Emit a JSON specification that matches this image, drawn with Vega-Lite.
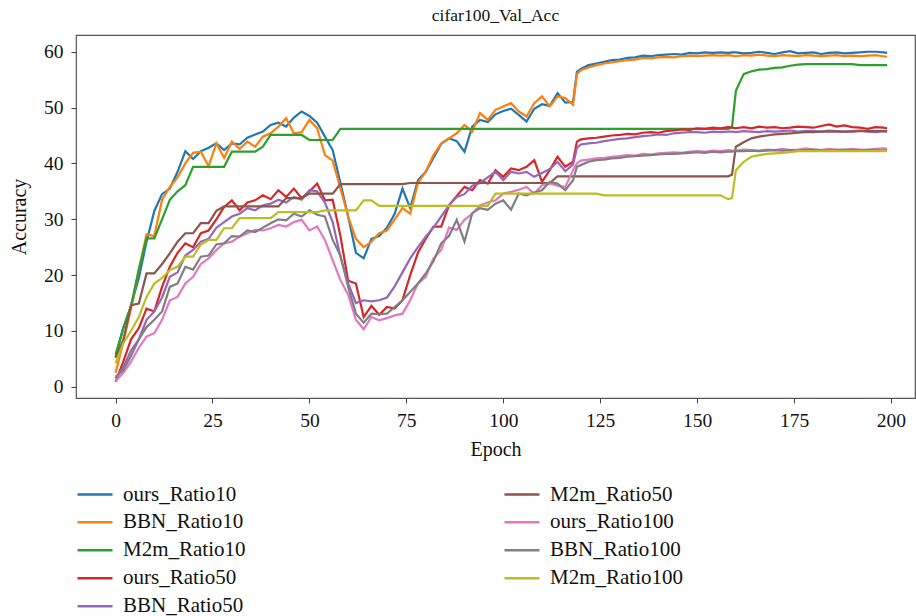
{
 "$schema": "https://vega.github.io/schema/vega-lite/v6.json",
 "width": 839,
 "height": 363,
 "autosize": {"type": "none"},
 "padding": {"left": 76, "top": 35, "right": 1, "bottom": 218},
 "background": "white",
 "title": {"text": "cifar100_Val_Acc", "fontSize": 17.5, "font": "Liberation Serif", "fontWeight": "normal", "color": "#111", "offset": 11},
 "config": {
  "view": {"stroke": "#555", "strokeWidth": 1.2},
  "font": "Liberation Serif",
  "axis": {"labelFont": "Liberation Serif", "titleFont": "Liberation Serif", "labelFontSize": 19.5, "titleFontSize": 20, "titleFontWeight": "normal", "labelColor": "#111", "titleColor": "#111", "tickColor": "#444", "tickSize": 5, "domain": false, "grid": false},
  "legend": {"labelFont": "Liberation Serif", "labelFontSize": 21, "labelColor": "#111", "padding": 0}
 },
 "data": {"values": [
{"Epoch":0,"ours_Ratio10":5.3,"BBN_Ratio10":2.5,"M2m_Ratio10":5.8,"ours_Ratio50":0.9,"BBN_Ratio50":1.5,"M2m_Ratio50":5.2,"ours_Ratio100":1.0,"BBN_Ratio100":1.8,"M2m_Ratio100":4.2},
{"Epoch":2,"ours_Ratio10":10.5,"BBN_Ratio10":8.0,"M2m_Ratio10":10.5,"ours_Ratio50":4.5,"BBN_Ratio50":3.5,"M2m_Ratio50":8.4,"ours_Ratio100":2.5,"BBN_Ratio100":3.0,"M2m_Ratio100":7.8},
{"Epoch":4,"ours_Ratio10":14.5,"BBN_Ratio10":14.0,"M2m_Ratio10":14.5,"ours_Ratio50":8.5,"BBN_Ratio50":6.5,"M2m_Ratio50":14.6,"ours_Ratio100":4.5,"BBN_Ratio100":5.5,"M2m_Ratio100":10.0},
{"Epoch":6,"ours_Ratio10":19.5,"BBN_Ratio10":21.0,"M2m_Ratio10":21.0,"ours_Ratio50":10.5,"BBN_Ratio50":8.5,"M2m_Ratio50":14.9,"ours_Ratio100":7.0,"BBN_Ratio100":8.5,"M2m_Ratio100":12.5},
{"Epoch":8,"ours_Ratio10":26.0,"BBN_Ratio10":27.3,"M2m_Ratio10":26.6,"ours_Ratio50":14.0,"BBN_Ratio50":12.0,"M2m_Ratio50":20.3,"ours_Ratio100":9.0,"BBN_Ratio100":10.7,"M2m_Ratio100":16.1},
{"Epoch":10,"ours_Ratio10":31.5,"BBN_Ratio10":27.0,"M2m_Ratio10":26.6,"ours_Ratio50":13.5,"BBN_Ratio50":13.5,"M2m_Ratio50":20.3,"ours_Ratio100":9.6,"BBN_Ratio100":12.0,"M2m_Ratio100":18.5},
{"Epoch":12,"ours_Ratio10":34.5,"BBN_Ratio10":33.5,"M2m_Ratio10":30.0,"ours_Ratio50":17.9,"BBN_Ratio50":16.0,"M2m_Ratio50":22.0,"ours_Ratio100":12.0,"BBN_Ratio100":13.5,"M2m_Ratio100":19.5},
{"Epoch":14,"ours_Ratio10":35.5,"BBN_Ratio10":35.8,"M2m_Ratio10":33.5,"ours_Ratio50":21.5,"BBN_Ratio50":19.7,"M2m_Ratio50":23.9,"ours_Ratio100":15.5,"BBN_Ratio100":17.9,"M2m_Ratio100":20.9},
{"Epoch":16,"ours_Ratio10":38.5,"BBN_Ratio10":37.5,"M2m_Ratio10":35.0,"ours_Ratio50":24.0,"BBN_Ratio50":20.5,"M2m_Ratio50":26.0,"ours_Ratio100":16.1,"BBN_Ratio100":18.5,"M2m_Ratio100":21.5},
{"Epoch":18,"ours_Ratio10":42.2,"BBN_Ratio10":40.0,"M2m_Ratio10":36.1,"ours_Ratio50":25.7,"BBN_Ratio50":23.5,"M2m_Ratio50":27.5,"ours_Ratio100":18.5,"BBN_Ratio100":21.5,"M2m_Ratio100":23.3},
{"Epoch":20,"ours_Ratio10":40.8,"BBN_Ratio10":41.9,"M2m_Ratio10":39.4,"ours_Ratio50":25.0,"BBN_Ratio50":24.5,"M2m_Ratio50":27.5,"ours_Ratio100":19.7,"BBN_Ratio100":21.0,"M2m_Ratio100":23.3},
{"Epoch":22,"ours_Ratio10":42.2,"BBN_Ratio10":42.1,"M2m_Ratio10":39.4,"ours_Ratio50":27.5,"BBN_Ratio50":26.0,"M2m_Ratio50":29.3,"ours_Ratio100":22.0,"BBN_Ratio100":23.3,"M2m_Ratio100":25.5},
{"Epoch":24,"ours_Ratio10":42.8,"BBN_Ratio10":39.5,"M2m_Ratio10":39.4,"ours_Ratio50":28.0,"BBN_Ratio50":26.5,"M2m_Ratio50":29.3,"ours_Ratio100":23.0,"BBN_Ratio100":23.5,"M2m_Ratio100":26.3},
{"Epoch":26,"ours_Ratio10":43.6,"BBN_Ratio10":43.6,"M2m_Ratio10":39.4,"ours_Ratio50":30.0,"BBN_Ratio50":28.5,"M2m_Ratio50":31.5,"ours_Ratio100":24.5,"BBN_Ratio100":25.5,"M2m_Ratio100":26.3},
{"Epoch":28,"ours_Ratio10":42.4,"BBN_Ratio10":41.0,"M2m_Ratio10":39.4,"ours_Ratio50":32.2,"BBN_Ratio50":29.5,"M2m_Ratio50":32.3,"ours_Ratio100":25.7,"BBN_Ratio100":25.7,"M2m_Ratio100":28.4},
{"Epoch":30,"ours_Ratio10":43.6,"BBN_Ratio10":43.9,"M2m_Ratio10":42.1,"ours_Ratio50":33.4,"BBN_Ratio50":30.5,"M2m_Ratio50":32.3,"ours_Ratio100":26.0,"BBN_Ratio100":27.0,"M2m_Ratio100":28.4},
{"Epoch":32,"ours_Ratio10":43.4,"BBN_Ratio10":42.6,"M2m_Ratio10":42.1,"ours_Ratio50":31.6,"BBN_Ratio50":31.0,"M2m_Ratio50":32.3,"ours_Ratio100":26.9,"BBN_Ratio100":26.9,"M2m_Ratio100":30.2},
{"Epoch":34,"ours_Ratio10":44.6,"BBN_Ratio10":43.9,"M2m_Ratio10":42.1,"ours_Ratio50":33.0,"BBN_Ratio50":32.0,"M2m_Ratio50":32.3,"ours_Ratio100":27.5,"BBN_Ratio100":28.0,"M2m_Ratio100":30.2},
{"Epoch":36,"ours_Ratio10":45.2,"BBN_Ratio10":43.0,"M2m_Ratio10":42.1,"ours_Ratio50":33.4,"BBN_Ratio50":31.6,"M2m_Ratio50":32.3,"ours_Ratio100":28.1,"BBN_Ratio100":27.7,"M2m_Ratio100":30.2},
{"Epoch":38,"ours_Ratio10":45.7,"BBN_Ratio10":44.8,"M2m_Ratio10":43.0,"ours_Ratio50":34.3,"BBN_Ratio50":32.5,"M2m_Ratio50":32.3,"ours_Ratio100":28.0,"BBN_Ratio100":28.5,"M2m_Ratio100":30.2},
{"Epoch":40,"ours_Ratio10":46.9,"BBN_Ratio10":45.4,"M2m_Ratio10":45.1,"ours_Ratio50":33.6,"BBN_Ratio50":32.8,"M2m_Ratio50":32.3,"ours_Ratio100":28.4,"BBN_Ratio100":29.3,"M2m_Ratio100":30.2},
{"Epoch":42,"ours_Ratio10":47.3,"BBN_Ratio10":46.6,"M2m_Ratio10":45.1,"ours_Ratio50":35.2,"BBN_Ratio50":33.5,"M2m_Ratio50":32.3,"ours_Ratio100":29.0,"BBN_Ratio100":30.0,"M2m_Ratio100":31.3},
{"Epoch":44,"ours_Ratio10":46.6,"BBN_Ratio10":48.1,"M2m_Ratio10":45.1,"ours_Ratio50":34.0,"BBN_Ratio50":33.0,"M2m_Ratio50":33.8,"ours_Ratio100":28.7,"BBN_Ratio100":29.8,"M2m_Ratio100":31.3},
{"Epoch":46,"ours_Ratio10":48.2,"BBN_Ratio10":45.4,"M2m_Ratio10":45.1,"ours_Ratio50":35.5,"BBN_Ratio50":34.0,"M2m_Ratio50":33.8,"ours_Ratio100":29.5,"BBN_Ratio100":31.0,"M2m_Ratio100":31.3},
{"Epoch":48,"ours_Ratio10":49.3,"BBN_Ratio10":45.6,"M2m_Ratio10":45.1,"ours_Ratio50":33.8,"BBN_Ratio50":33.5,"M2m_Ratio50":33.8,"ours_Ratio100":29.9,"BBN_Ratio100":30.5,"M2m_Ratio100":31.3},
{"Epoch":50,"ours_Ratio10":48.5,"BBN_Ratio10":47.8,"M2m_Ratio10":44.2,"ours_Ratio50":35.0,"BBN_Ratio50":35.2,"M2m_Ratio50":34.6,"ours_Ratio100":28.0,"BBN_Ratio100":31.6,"M2m_Ratio100":31.3},
{"Epoch":52,"ours_Ratio10":47.3,"BBN_Ratio10":46.3,"M2m_Ratio10":44.2,"ours_Ratio50":36.4,"BBN_Ratio50":35.0,"M2m_Ratio50":34.6,"ours_Ratio100":28.7,"BBN_Ratio100":30.8,"M2m_Ratio100":31.3},
{"Epoch":54,"ours_Ratio10":44.8,"BBN_Ratio10":41.5,"M2m_Ratio10":44.2,"ours_Ratio50":33.4,"BBN_Ratio50":33.0,"M2m_Ratio50":34.6,"ours_Ratio100":26.3,"BBN_Ratio100":30.5,"M2m_Ratio100":31.6},
{"Epoch":56,"ours_Ratio10":42.4,"BBN_Ratio10":40.5,"M2m_Ratio10":44.2,"ours_Ratio50":33.5,"BBN_Ratio50":29.5,"M2m_Ratio50":34.6,"ours_Ratio100":22.7,"BBN_Ratio100":26.3,"M2m_Ratio100":31.6},
{"Epoch":58,"ours_Ratio10":36.5,"BBN_Ratio10":35.5,"M2m_Ratio10":46.2,"ours_Ratio50":27.0,"BBN_Ratio50":23.3,"M2m_Ratio50":36.3,"ours_Ratio100":19.1,"BBN_Ratio100":23.5,"M2m_Ratio100":31.6},
{"Epoch":60,"ours_Ratio10":30.5,"BBN_Ratio10":30.5,"M2m_Ratio10":46.2,"ours_Ratio50":19.0,"BBN_Ratio50":18.5,"M2m_Ratio50":36.3,"ours_Ratio100":16.5,"BBN_Ratio100":17.9,"M2m_Ratio100":31.6},
{"Epoch":62,"ours_Ratio10":24.0,"BBN_Ratio10":26.5,"M2m_Ratio10":46.2,"ours_Ratio50":18.5,"BBN_Ratio50":15.0,"M2m_Ratio50":36.3,"ours_Ratio100":12.0,"BBN_Ratio100":13.1,"M2m_Ratio100":31.6},
{"Epoch":64,"ours_Ratio10":23.0,"BBN_Ratio10":25.0,"M2m_Ratio10":46.2,"ours_Ratio50":12.5,"BBN_Ratio50":15.5,"M2m_Ratio50":36.3,"ours_Ratio100":10.3,"BBN_Ratio100":11.5,"M2m_Ratio100":33.4},
{"Epoch":66,"ours_Ratio10":26.5,"BBN_Ratio10":26.0,"M2m_Ratio10":46.2,"ours_Ratio50":14.5,"BBN_Ratio50":15.3,"M2m_Ratio50":36.3,"ours_Ratio100":12.5,"BBN_Ratio100":13.1,"M2m_Ratio100":33.4},
{"Epoch":68,"ours_Ratio10":27.0,"BBN_Ratio10":27.5,"M2m_Ratio10":46.2,"ours_Ratio50":12.9,"BBN_Ratio50":15.5,"M2m_Ratio50":36.3,"ours_Ratio100":11.9,"BBN_Ratio100":13.0,"M2m_Ratio100":32.4},
{"Epoch":70,"ours_Ratio10":28.5,"BBN_Ratio10":28.0,"M2m_Ratio10":46.2,"ours_Ratio50":14.3,"BBN_Ratio50":16.0,"M2m_Ratio50":36.3,"ours_Ratio100":12.3,"BBN_Ratio100":13.1,"M2m_Ratio100":32.4},
{"Epoch":72,"ours_Ratio10":31.0,"BBN_Ratio10":30.0,"M2m_Ratio10":46.2,"ours_Ratio50":14.0,"BBN_Ratio50":18.0,"M2m_Ratio50":36.3,"ours_Ratio100":12.8,"BBN_Ratio100":14.3,"M2m_Ratio100":32.4},
{"Epoch":74,"ours_Ratio10":35.5,"BBN_Ratio10":32.0,"M2m_Ratio10":46.2,"ours_Ratio50":15.5,"BBN_Ratio50":20.5,"M2m_Ratio50":36.3,"ours_Ratio100":13.1,"BBN_Ratio100":15.5,"M2m_Ratio100":32.4},
{"Epoch":76,"ours_Ratio10":32.0,"BBN_Ratio10":31.0,"M2m_Ratio10":46.2,"ours_Ratio50":20.0,"BBN_Ratio50":23.0,"M2m_Ratio50":36.5,"ours_Ratio100":15.5,"BBN_Ratio100":17.0,"M2m_Ratio100":32.4},
{"Epoch":78,"ours_Ratio10":37.0,"BBN_Ratio10":36.5,"M2m_Ratio10":46.2,"ours_Ratio50":24.0,"BBN_Ratio50":25.0,"M2m_Ratio50":36.5,"ours_Ratio100":18.5,"BBN_Ratio100":18.5,"M2m_Ratio100":32.4},
{"Epoch":80,"ours_Ratio10":38.5,"BBN_Ratio10":38.5,"M2m_Ratio10":46.2,"ours_Ratio50":26.5,"BBN_Ratio50":26.9,"M2m_Ratio50":36.5,"ours_Ratio100":19.7,"BBN_Ratio100":20.3,"M2m_Ratio100":32.4},
{"Epoch":82,"ours_Ratio10":41.0,"BBN_Ratio10":41.5,"M2m_Ratio10":46.2,"ours_Ratio50":28.7,"BBN_Ratio50":28.5,"M2m_Ratio50":36.5,"ours_Ratio100":23.0,"BBN_Ratio100":22.5,"M2m_Ratio100":32.4},
{"Epoch":84,"ours_Ratio10":43.5,"BBN_Ratio10":43.6,"M2m_Ratio10":46.2,"ours_Ratio50":28.7,"BBN_Ratio50":30.5,"M2m_Ratio50":36.5,"ours_Ratio100":24.5,"BBN_Ratio100":25.7,"M2m_Ratio100":32.4},
{"Epoch":86,"ours_Ratio10":44.5,"BBN_Ratio10":44.5,"M2m_Ratio10":46.2,"ours_Ratio50":32.5,"BBN_Ratio50":32.5,"M2m_Ratio50":36.5,"ours_Ratio100":28.5,"BBN_Ratio100":27.0,"M2m_Ratio100":32.4},
{"Epoch":88,"ours_Ratio10":44.0,"BBN_Ratio10":45.4,"M2m_Ratio10":46.2,"ours_Ratio50":34.2,"BBN_Ratio50":34.0,"M2m_Ratio50":36.5,"ours_Ratio100":28.1,"BBN_Ratio100":29.9,"M2m_Ratio100":32.4},
{"Epoch":90,"ours_Ratio10":42.1,"BBN_Ratio10":46.9,"M2m_Ratio10":46.2,"ours_Ratio50":35.8,"BBN_Ratio50":34.5,"M2m_Ratio50":36.5,"ours_Ratio100":29.9,"BBN_Ratio100":26.0,"M2m_Ratio100":32.4},
{"Epoch":92,"ours_Ratio10":46.6,"BBN_Ratio10":45.7,"M2m_Ratio10":46.2,"ours_Ratio50":35.2,"BBN_Ratio50":36.0,"M2m_Ratio50":36.5,"ours_Ratio100":31.0,"BBN_Ratio100":31.1,"M2m_Ratio100":32.4},
{"Epoch":94,"ours_Ratio10":47.8,"BBN_Ratio10":49.0,"M2m_Ratio10":46.2,"ours_Ratio50":37.0,"BBN_Ratio50":36.5,"M2m_Ratio50":36.5,"ours_Ratio100":32.5,"BBN_Ratio100":32.0,"M2m_Ratio100":32.4},
{"Epoch":96,"ours_Ratio10":47.4,"BBN_Ratio10":47.8,"M2m_Ratio10":46.2,"ours_Ratio50":36.4,"BBN_Ratio50":37.5,"M2m_Ratio50":36.5,"ours_Ratio100":33.0,"BBN_Ratio100":31.7,"M2m_Ratio100":32.4},
{"Epoch":98,"ours_Ratio10":48.8,"BBN_Ratio10":49.6,"M2m_Ratio10":46.2,"ours_Ratio50":38.8,"BBN_Ratio50":38.5,"M2m_Ratio50":36.5,"ours_Ratio100":33.4,"BBN_Ratio100":32.8,"M2m_Ratio100":34.6},
{"Epoch":100,"ours_Ratio10":49.4,"BBN_Ratio10":50.2,"M2m_Ratio10":46.2,"ours_Ratio50":37.6,"BBN_Ratio50":37.0,"M2m_Ratio50":36.5,"ours_Ratio100":34.6,"BBN_Ratio100":33.4,"M2m_Ratio100":34.6},
{"Epoch":102,"ours_Ratio10":49.8,"BBN_Ratio10":50.8,"M2m_Ratio10":46.2,"ours_Ratio50":39.1,"BBN_Ratio50":38.5,"M2m_Ratio50":36.5,"ours_Ratio100":34.9,"BBN_Ratio100":31.7,"M2m_Ratio100":34.6},
{"Epoch":104,"ours_Ratio10":48.7,"BBN_Ratio10":49.3,"M2m_Ratio10":46.2,"ours_Ratio50":38.8,"BBN_Ratio50":38.2,"M2m_Ratio50":36.5,"ours_Ratio100":35.3,"BBN_Ratio100":34.6,"M2m_Ratio100":34.6},
{"Epoch":106,"ours_Ratio10":47.5,"BBN_Ratio10":48.4,"M2m_Ratio10":46.2,"ours_Ratio50":39.4,"BBN_Ratio50":38.5,"M2m_Ratio50":36.5,"ours_Ratio100":35.8,"BBN_Ratio100":34.3,"M2m_Ratio100":34.6},
{"Epoch":108,"ours_Ratio10":49.8,"BBN_Ratio10":50.8,"M2m_Ratio10":46.2,"ours_Ratio50":40.6,"BBN_Ratio50":37.6,"M2m_Ratio50":36.5,"ours_Ratio100":34.6,"BBN_Ratio100":34.8,"M2m_Ratio100":34.6},
{"Epoch":110,"ours_Ratio10":50.6,"BBN_Ratio10":52.0,"M2m_Ratio10":46.2,"ours_Ratio50":36.7,"BBN_Ratio50":38.3,"M2m_Ratio50":36.5,"ours_Ratio100":36.1,"BBN_Ratio100":35.2,"M2m_Ratio100":34.6},
{"Epoch":112,"ours_Ratio10":50.3,"BBN_Ratio10":50.2,"M2m_Ratio10":46.2,"ours_Ratio50":38.8,"BBN_Ratio50":39.0,"M2m_Ratio50":36.5,"ours_Ratio100":36.4,"BBN_Ratio100":36.7,"M2m_Ratio100":34.6},
{"Epoch":114,"ours_Ratio10":52.6,"BBN_Ratio10":52.0,"M2m_Ratio10":46.2,"ours_Ratio50":41.2,"BBN_Ratio50":40.3,"M2m_Ratio50":37.7,"ours_Ratio100":36.0,"BBN_Ratio100":36.4,"M2m_Ratio100":34.6},
{"Epoch":116,"ours_Ratio10":50.9,"BBN_Ratio10":51.7,"M2m_Ratio10":46.2,"ours_Ratio50":39.4,"BBN_Ratio50":38.6,"M2m_Ratio50":37.7,"ours_Ratio100":35.8,"BBN_Ratio100":35.2,"M2m_Ratio100":34.6},
{"Epoch":118,"ours_Ratio10":51.0,"BBN_Ratio10":50.5,"M2m_Ratio10":46.2,"ours_Ratio50":40.3,"BBN_Ratio50":39.8,"M2m_Ratio50":37.7,"ours_Ratio100":38.8,"BBN_Ratio100":37.0,"M2m_Ratio100":34.6},
{"Epoch":119,"ours_Ratio10":56.4,"BBN_Ratio10":56.0,"M2m_Ratio10":46.2,"ours_Ratio50":43.9,"BBN_Ratio50":42.8,"M2m_Ratio50":37.7,"ours_Ratio100":40.0,"BBN_Ratio100":39.4,"M2m_Ratio100":34.6},
{"Epoch":120,"ours_Ratio10":56.9,"BBN_Ratio10":56.7,"M2m_Ratio10":46.2,"ours_Ratio50":44.3,"BBN_Ratio50":43.4,"M2m_Ratio50":37.7,"ours_Ratio100":40.5,"BBN_Ratio100":39.7,"M2m_Ratio100":34.6},
{"Epoch":122,"ours_Ratio10":57.6,"BBN_Ratio10":57.2,"M2m_Ratio10":46.2,"ours_Ratio50":44.5,"BBN_Ratio50":43.6,"M2m_Ratio50":37.7,"ours_Ratio100":40.7,"BBN_Ratio100":40.3,"M2m_Ratio100":34.6},
{"Epoch":124,"ours_Ratio10":57.9,"BBN_Ratio10":57.6,"M2m_Ratio10":46.2,"ours_Ratio50":44.6,"BBN_Ratio50":43.7,"M2m_Ratio50":37.7,"ours_Ratio100":40.9,"BBN_Ratio100":40.6,"M2m_Ratio100":34.6},
{"Epoch":126,"ours_Ratio10":58.2,"BBN_Ratio10":57.9,"M2m_Ratio10":46.2,"ours_Ratio50":44.8,"BBN_Ratio50":44.0,"M2m_Ratio50":37.7,"ours_Ratio100":41.0,"BBN_Ratio100":40.7,"M2m_Ratio100":34.3},
{"Epoch":128,"ours_Ratio10":58.5,"BBN_Ratio10":58.1,"M2m_Ratio10":46.2,"ours_Ratio50":45.0,"BBN_Ratio50":44.2,"M2m_Ratio50":37.7,"ours_Ratio100":41.2,"BBN_Ratio100":40.9,"M2m_Ratio100":34.3},
{"Epoch":130,"ours_Ratio10":58.6,"BBN_Ratio10":58.3,"M2m_Ratio10":46.2,"ours_Ratio50":45.1,"BBN_Ratio50":44.4,"M2m_Ratio50":37.7,"ours_Ratio100":41.3,"BBN_Ratio100":41.0,"M2m_Ratio100":34.3},
{"Epoch":132,"ours_Ratio10":58.9,"BBN_Ratio10":58.5,"M2m_Ratio10":46.2,"ours_Ratio50":45.3,"BBN_Ratio50":44.5,"M2m_Ratio50":37.7,"ours_Ratio100":41.5,"BBN_Ratio100":41.2,"M2m_Ratio100":34.3},
{"Epoch":134,"ours_Ratio10":59.0,"BBN_Ratio10":58.6,"M2m_Ratio10":46.2,"ours_Ratio50":45.2,"BBN_Ratio50":44.7,"M2m_Ratio50":37.7,"ours_Ratio100":41.4,"BBN_Ratio100":41.3,"M2m_Ratio100":34.3},
{"Epoch":136,"ours_Ratio10":59.3,"BBN_Ratio10":58.9,"M2m_Ratio10":46.2,"ours_Ratio50":45.5,"BBN_Ratio50":44.9,"M2m_Ratio50":37.7,"ours_Ratio100":41.7,"BBN_Ratio100":41.4,"M2m_Ratio100":34.3},
{"Epoch":138,"ours_Ratio10":59.2,"BBN_Ratio10":58.8,"M2m_Ratio10":46.2,"ours_Ratio50":45.6,"BBN_Ratio50":45.0,"M2m_Ratio50":37.7,"ours_Ratio100":41.6,"BBN_Ratio100":41.5,"M2m_Ratio100":34.3},
{"Epoch":140,"ours_Ratio10":59.4,"BBN_Ratio10":59.0,"M2m_Ratio10":46.2,"ours_Ratio50":45.5,"BBN_Ratio50":45.2,"M2m_Ratio50":37.7,"ours_Ratio100":41.8,"BBN_Ratio100":41.6,"M2m_Ratio100":34.3},
{"Epoch":142,"ours_Ratio10":59.5,"BBN_Ratio10":59.1,"M2m_Ratio10":46.2,"ours_Ratio50":45.8,"BBN_Ratio50":45.1,"M2m_Ratio50":37.7,"ours_Ratio100":41.9,"BBN_Ratio100":41.7,"M2m_Ratio100":34.3},
{"Epoch":144,"ours_Ratio10":59.6,"BBN_Ratio10":59.0,"M2m_Ratio10":46.2,"ours_Ratio50":45.9,"BBN_Ratio50":45.4,"M2m_Ratio50":37.7,"ours_Ratio100":42.0,"BBN_Ratio100":41.7,"M2m_Ratio100":34.3},
{"Epoch":146,"ours_Ratio10":59.5,"BBN_Ratio10":59.2,"M2m_Ratio10":46.2,"ours_Ratio50":46.1,"BBN_Ratio50":45.5,"M2m_Ratio50":37.7,"ours_Ratio100":41.9,"BBN_Ratio100":41.8,"M2m_Ratio100":34.3},
{"Epoch":148,"ours_Ratio10":59.8,"BBN_Ratio10":59.3,"M2m_Ratio10":46.2,"ours_Ratio50":46.0,"BBN_Ratio50":45.6,"M2m_Ratio50":37.7,"ours_Ratio100":42.1,"BBN_Ratio100":41.9,"M2m_Ratio100":34.3},
{"Epoch":150,"ours_Ratio10":59.7,"BBN_Ratio10":59.2,"M2m_Ratio10":46.2,"ours_Ratio50":46.3,"BBN_Ratio50":45.6,"M2m_Ratio50":37.7,"ours_Ratio100":42.2,"BBN_Ratio100":42.0,"M2m_Ratio100":34.3},
{"Epoch":152,"ours_Ratio10":59.9,"BBN_Ratio10":59.3,"M2m_Ratio10":46.2,"ours_Ratio50":46.2,"BBN_Ratio50":45.5,"M2m_Ratio50":37.7,"ours_Ratio100":42.1,"BBN_Ratio100":41.9,"M2m_Ratio100":34.3},
{"Epoch":154,"ours_Ratio10":59.8,"BBN_Ratio10":59.4,"M2m_Ratio10":46.2,"ours_Ratio50":46.4,"BBN_Ratio50":45.7,"M2m_Ratio50":37.7,"ours_Ratio100":42.3,"BBN_Ratio100":42.1,"M2m_Ratio100":34.3},
{"Epoch":156,"ours_Ratio10":59.9,"BBN_Ratio10":59.3,"M2m_Ratio10":46.2,"ours_Ratio50":46.3,"BBN_Ratio50":45.6,"M2m_Ratio50":37.7,"ours_Ratio100":42.2,"BBN_Ratio100":42.0,"M2m_Ratio100":34.3},
{"Epoch":158,"ours_Ratio10":59.8,"BBN_Ratio10":59.4,"M2m_Ratio10":46.2,"ours_Ratio50":46.5,"BBN_Ratio50":45.7,"M2m_Ratio50":37.7,"ours_Ratio100":42.4,"BBN_Ratio100":42.1,"M2m_Ratio100":33.6},
{"Epoch":159,"ours_Ratio10":59.9,"BBN_Ratio10":59.3,"M2m_Ratio10":46.5,"ours_Ratio50":46.4,"BBN_Ratio50":45.7,"M2m_Ratio50":38.0,"ours_Ratio100":42.3,"BBN_Ratio100":42.1,"M2m_Ratio100":33.8},
{"Epoch":160,"ours_Ratio10":59.9,"BBN_Ratio10":59.2,"M2m_Ratio10":53.0,"ours_Ratio50":46.3,"BBN_Ratio50":45.6,"M2m_Ratio50":43.0,"ours_Ratio100":42.3,"BBN_Ratio100":42.2,"M2m_Ratio100":38.8},
{"Epoch":162,"ours_Ratio10":59.7,"BBN_Ratio10":59.4,"M2m_Ratio10":56.0,"ours_Ratio50":46.5,"BBN_Ratio50":45.8,"M2m_Ratio50":43.8,"ours_Ratio100":42.5,"BBN_Ratio100":42.2,"M2m_Ratio100":40.3},
{"Epoch":164,"ours_Ratio10":59.8,"BBN_Ratio10":59.3,"M2m_Ratio10":56.5,"ours_Ratio50":46.3,"BBN_Ratio50":45.7,"M2m_Ratio50":44.5,"ours_Ratio100":42.4,"BBN_Ratio100":42.3,"M2m_Ratio100":41.2},
{"Epoch":166,"ours_Ratio10":60.0,"BBN_Ratio10":59.5,"M2m_Ratio10":56.8,"ours_Ratio50":46.6,"BBN_Ratio50":45.6,"M2m_Ratio50":44.8,"ours_Ratio100":42.3,"BBN_Ratio100":42.2,"M2m_Ratio100":41.5},
{"Epoch":168,"ours_Ratio10":59.8,"BBN_Ratio10":59.3,"M2m_Ratio10":56.9,"ours_Ratio50":46.4,"BBN_Ratio50":45.8,"M2m_Ratio50":45.0,"ours_Ratio100":42.5,"BBN_Ratio100":42.3,"M2m_Ratio100":41.7},
{"Epoch":170,"ours_Ratio10":59.6,"BBN_Ratio10":59.2,"M2m_Ratio10":57.1,"ours_Ratio50":46.5,"BBN_Ratio50":45.7,"M2m_Ratio50":45.2,"ours_Ratio100":42.4,"BBN_Ratio100":42.4,"M2m_Ratio100":41.8},
{"Epoch":172,"ours_Ratio10":59.9,"BBN_Ratio10":59.4,"M2m_Ratio10":57.2,"ours_Ratio50":46.3,"BBN_Ratio50":45.8,"M2m_Ratio50":45.3,"ours_Ratio100":42.6,"BBN_Ratio100":42.3,"M2m_Ratio100":41.9},
{"Epoch":174,"ours_Ratio10":60.1,"BBN_Ratio10":59.3,"M2m_Ratio10":57.5,"ours_Ratio50":46.4,"BBN_Ratio50":45.9,"M2m_Ratio50":45.4,"ours_Ratio100":42.4,"BBN_Ratio100":42.4,"M2m_Ratio100":42.0},
{"Epoch":176,"ours_Ratio10":59.7,"BBN_Ratio10":59.2,"M2m_Ratio10":57.7,"ours_Ratio50":46.6,"BBN_Ratio50":45.7,"M2m_Ratio50":45.5,"ours_Ratio100":42.5,"BBN_Ratio100":42.3,"M2m_Ratio100":42.2},
{"Epoch":178,"ours_Ratio10":59.8,"BBN_Ratio10":59.4,"M2m_Ratio10":57.8,"ours_Ratio50":46.5,"BBN_Ratio50":45.8,"M2m_Ratio50":45.6,"ours_Ratio100":42.7,"BBN_Ratio100":42.4,"M2m_Ratio100":42.2},
{"Epoch":180,"ours_Ratio10":59.9,"BBN_Ratio10":59.3,"M2m_Ratio10":57.8,"ours_Ratio50":46.4,"BBN_Ratio50":45.8,"M2m_Ratio50":45.6,"ours_Ratio100":42.5,"BBN_Ratio100":42.5,"M2m_Ratio100":42.2},
{"Epoch":182,"ours_Ratio10":59.6,"BBN_Ratio10":59.2,"M2m_Ratio10":57.8,"ours_Ratio50":46.7,"BBN_Ratio50":45.7,"M2m_Ratio50":45.7,"ours_Ratio100":42.4,"BBN_Ratio100":42.4,"M2m_Ratio100":42.2},
{"Epoch":184,"ours_Ratio10":59.8,"BBN_Ratio10":59.3,"M2m_Ratio10":57.8,"ours_Ratio50":47.0,"BBN_Ratio50":45.9,"M2m_Ratio50":45.7,"ours_Ratio100":42.6,"BBN_Ratio100":42.3,"M2m_Ratio100":42.2},
{"Epoch":186,"ours_Ratio10":59.9,"BBN_Ratio10":59.4,"M2m_Ratio10":57.8,"ours_Ratio50":46.6,"BBN_Ratio50":45.8,"M2m_Ratio50":45.7,"ours_Ratio100":42.5,"BBN_Ratio100":42.4,"M2m_Ratio100":42.2},
{"Epoch":188,"ours_Ratio10":59.7,"BBN_Ratio10":59.2,"M2m_Ratio10":57.8,"ours_Ratio50":46.8,"BBN_Ratio50":45.7,"M2m_Ratio50":45.7,"ours_Ratio100":42.4,"BBN_Ratio100":42.5,"M2m_Ratio100":42.2},
{"Epoch":190,"ours_Ratio10":59.8,"BBN_Ratio10":59.3,"M2m_Ratio10":57.8,"ours_Ratio50":46.5,"BBN_Ratio50":45.8,"M2m_Ratio50":45.7,"ours_Ratio100":42.6,"BBN_Ratio100":42.4,"M2m_Ratio100":42.2},
{"Epoch":192,"ours_Ratio10":59.9,"BBN_Ratio10":59.2,"M2m_Ratio10":57.6,"ours_Ratio50":46.4,"BBN_Ratio50":45.9,"M2m_Ratio50":45.8,"ours_Ratio100":42.5,"BBN_Ratio100":42.3,"M2m_Ratio100":42.2},
{"Epoch":194,"ours_Ratio10":60.0,"BBN_Ratio10":59.3,"M2m_Ratio10":57.6,"ours_Ratio50":46.2,"BBN_Ratio50":45.7,"M2m_Ratio50":45.8,"ours_Ratio100":42.4,"BBN_Ratio100":42.5,"M2m_Ratio100":42.2},
{"Epoch":196,"ours_Ratio10":60.0,"BBN_Ratio10":59.4,"M2m_Ratio10":57.6,"ours_Ratio50":46.5,"BBN_Ratio50":45.6,"M2m_Ratio50":45.8,"ours_Ratio100":42.6,"BBN_Ratio100":42.4,"M2m_Ratio100":42.2},
{"Epoch":198,"ours_Ratio10":59.9,"BBN_Ratio10":59.2,"M2m_Ratio10":57.6,"ours_Ratio50":46.4,"BBN_Ratio50":45.8,"M2m_Ratio50":45.8,"ours_Ratio100":42.7,"BBN_Ratio100":42.3,"M2m_Ratio100":42.2},
{"Epoch":199,"ours_Ratio10":59.8,"BBN_Ratio10":59.1,"M2m_Ratio10":57.6,"ours_Ratio50":46.3,"BBN_Ratio50":45.7,"M2m_Ratio50":45.8,"ours_Ratio100":42.6,"BBN_Ratio100":42.4,"M2m_Ratio100":42.2}
 ]},
 "transform": [{"fold": ["ours_Ratio10","BBN_Ratio10","M2m_Ratio10","ours_Ratio50","BBN_Ratio50","M2m_Ratio50","ours_Ratio100","BBN_Ratio100","M2m_Ratio100"], "as": ["series","acc"]}],
 "mark": {"type": "line", "strokeWidth": 2.2},
 "encoding": {
  "x": {"field": "Epoch", "type": "quantitative", "scale": {"domain": [-10.2, 206.2], "nice": false, "zero": false}, "axis": {"values": [0,25,50,75,100,125,150,175,200], "title": "Epoch", "labelPadding": 8, "titlePadding": 10}},
  "y": {"field": "acc", "type": "quantitative", "scale": {"domain": [-2, 63], "nice": false, "zero": false}, "axis": {"values": [0,10,20,30,40,50,60], "title": "Accuracy", "labelPadding": 8, "titlePadding": 14}},
  "color": {"field": "series", "type": "nominal",
   "scale": {"domain": ["ours_Ratio10","BBN_Ratio10","M2m_Ratio10","ours_Ratio50","BBN_Ratio50","M2m_Ratio50","ours_Ratio100","BBN_Ratio100","M2m_Ratio100"],
             "range": ["#1f77b4","#ff7f0e","#2ca02c","#d62728","#9467bd","#8c564b","#e377c2","#7f7f7f","#bcbd22"]},
   "legend": {"orient": "none", "legendX": 0, "legendY": 445.5, "direction": "vertical", "columns": 2, "columnPadding": 257, "rowPadding": 0, "clipHeight": 27.5, "symbolType": "stroke", "symbolSize": 1225, "symbolStrokeWidth": 2.5, "labelOffset": 9, "title": null}}
 }
}
